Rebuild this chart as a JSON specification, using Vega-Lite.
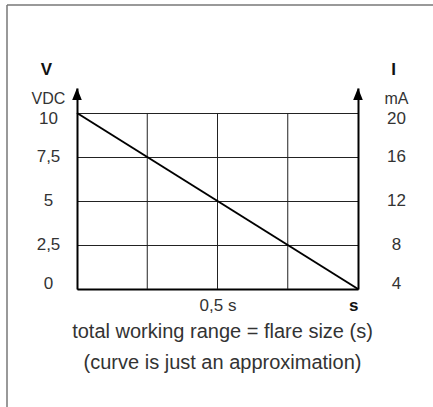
{
  "$schema": "https://vega.github.io/schema/vega-lite/v6.json",
  "width": 281,
  "height": 201,
  "autosize": {"type": "none"},
  "padding": {"left": 77, "top": 88, "right": 75, "bottom": 118},
  "background": "white",
  "config": {
    "view": {"stroke": null},
    "font": "Liberation Sans",
    "axis": {
      "labelColor": "#333",
      "titleColor": "#111",
      "ticks": false,
      "tickSize": 0,
      "domainColor": "#000",
      "domainWidth": 2,
      "labelFontSize": 17,
      "titleFontSize": 17
    }
  },
  "datasets": {
    "curve": [{"t": 0, "v": 10}, {"t": 1, "v": 0}],
    "vgrid": [{"t": 0.25}, {"t": 0.5}, {"t": 0.75}],
    "arrows": [{"t": 0, "v": 11.08}, {"t": 1, "v": 11.08}]
  },
  "layer": [
    {
      "data": {"values": [{}]},
      "mark": {"type": "rule", "color": "#777", "strokeWidth": 1.5},
      "encoding": {
        "x": {"datum": -0.2491, "type": "quantitative", "scale": {"domain": [0, 1], "nice": false, "zero": false}, "axis": null},
        "x2": {"datum": 1.3},
        "y": {"datum": 16.136, "type": "quantitative", "scale": {"domain": [0, 11.42], "nice": false, "zero": false}, "axis": null}
      }
    },
    {
      "data": {"values": [{}]},
      "mark": {"type": "rule", "color": "#777", "strokeWidth": 1.5},
      "encoding": {
        "x": {"datum": -0.2491, "type": "quantitative", "scale": {"domain": [0, 1], "nice": false, "zero": false}, "axis": null},
        "y": {"datum": 16.136, "type": "quantitative", "scale": {"domain": [0, 11.42], "nice": false, "zero": false}, "axis": null},
        "y2": {"datum": -7}
      }
    },
    {
      "data": {"name": "vgrid"},
      "mark": {"type": "rule", "color": "#222", "strokeWidth": 1},
      "encoding": {
        "x": {"field": "t", "type": "quantitative", "scale": {"domain": [0, 1], "nice": false, "zero": false}, "axis": null},
        "y": {"datum": 0, "type": "quantitative", "scale": {"domain": [0, 11.42], "nice": false, "zero": false}, "axis": null},
        "y2": {"datum": 10}
      }
    },
    {
      "data": {"name": "curve"},
      "mark": {"type": "line", "color": "#000", "strokeWidth": 2},
      "encoding": {
        "x": {
          "field": "t",
          "type": "quantitative",
          "scale": {"domain": [0, 1], "nice": false, "zero": false},
          "axis": {
            "values": [0.5, 1],
            "labelExpr": "datum.value == 1 ? 's' : '0,5 s'",
            "labelFontWeight": {"condition": {"test": "datum.value == 1", "value": "bold"}, "value": "normal"},
            "labelColor": {"condition": {"test": "datum.value == 1", "value": "#111"}, "value": "#333"},
            "labelBaseline": "middle",
            "labelPadding": 16,
            "labelAngle": 0,
            "grid": false,
            "title": ["total working range = flare size (s)", "(curve is just an approximation)"],
            "titleFontWeight": "normal",
            "titleFontSize": 20,
            "titleColor": "#333",
            "titleLineHeight": 31,
            "titleX": 145,
            "titleY": 48,
            "titleBaseline": "alphabetic",
            "titleAlign": "center"
          }
        },
        "y": {
          "field": "v",
          "type": "quantitative",
          "scale": {"domain": [0, 11.42], "nice": false, "zero": false},
          "axis": {
            "values": [0, 2.5, 5, 7.5, 10, 10.8],
            "labelExpr": "datum.value > 10.5 ? 'VDC' : replace('' + datum.value, '.', ',')",
            "labelAlign": "center",
            "labelBaseline": "middle",
            "labelPadding": 29,
            "labelFontSize": {"condition": {"test": "datum.value > 10.5", "value": 16}, "value": 17},
            "labelOffset": {"condition": [{"test": "datum.value == 10", "value": 6}, {"test": "datum.value == 0", "value": -6}], "value": 0},
            "grid": true,
            "gridColor": "#222",
            "gridWidth": 1,
            "gridOpacity": {"condition": {"test": "datum.value > 10.5", "value": 0}, "value": 1},
            "title": "V",
            "titleAngle": 0,
            "titleFontWeight": "bold",
            "titleX": -31,
            "titleY": -19,
            "titleAlign": "center",
            "titleBaseline": "middle"
          }
        }
      }
    },
    {
      "data": {"name": "arrows"},
      "mark": {"type": "point", "shape": "M0,-1L0.8,1L-0.8,1Z", "filled": true, "color": "#000", "size": 144, "opacity": 1, "strokeWidth": 0},
      "encoding": {
        "x": {"field": "t", "type": "quantitative", "scale": {"domain": [0, 1], "nice": false, "zero": false}, "axis": null},
        "y": {
          "field": "v",
          "type": "quantitative",
          "scale": {"domain": [0, 11.42], "nice": false, "zero": false},
          "axis": {
            "orient": "right",
            "values": [0, 2.5, 5, 7.5, 10, 10.8],
            "labelExpr": "datum.value > 10.5 ? 'mA' : format(4 + datum.value * 1.6, 'd')",
            "labelAlign": "center",
            "labelBaseline": "middle",
            "labelPadding": 38,
            "labelFontSize": {"condition": {"test": "datum.value > 10.5", "value": 16}, "value": 17},
            "labelOffset": {"condition": [{"test": "datum.value == 10", "value": 6}, {"test": "datum.value == 0", "value": -6}], "value": 0},
            "grid": false,
            "title": "I",
            "titleAngle": 0,
            "titleFontWeight": "bold",
            "titleX": 35,
            "titleY": -19,
            "titleAlign": "center",
            "titleBaseline": "middle"
          }
        }
      }
    }
  ],
  "resolve": {"axis": {"x": "independent", "y": "independent"}}
}
